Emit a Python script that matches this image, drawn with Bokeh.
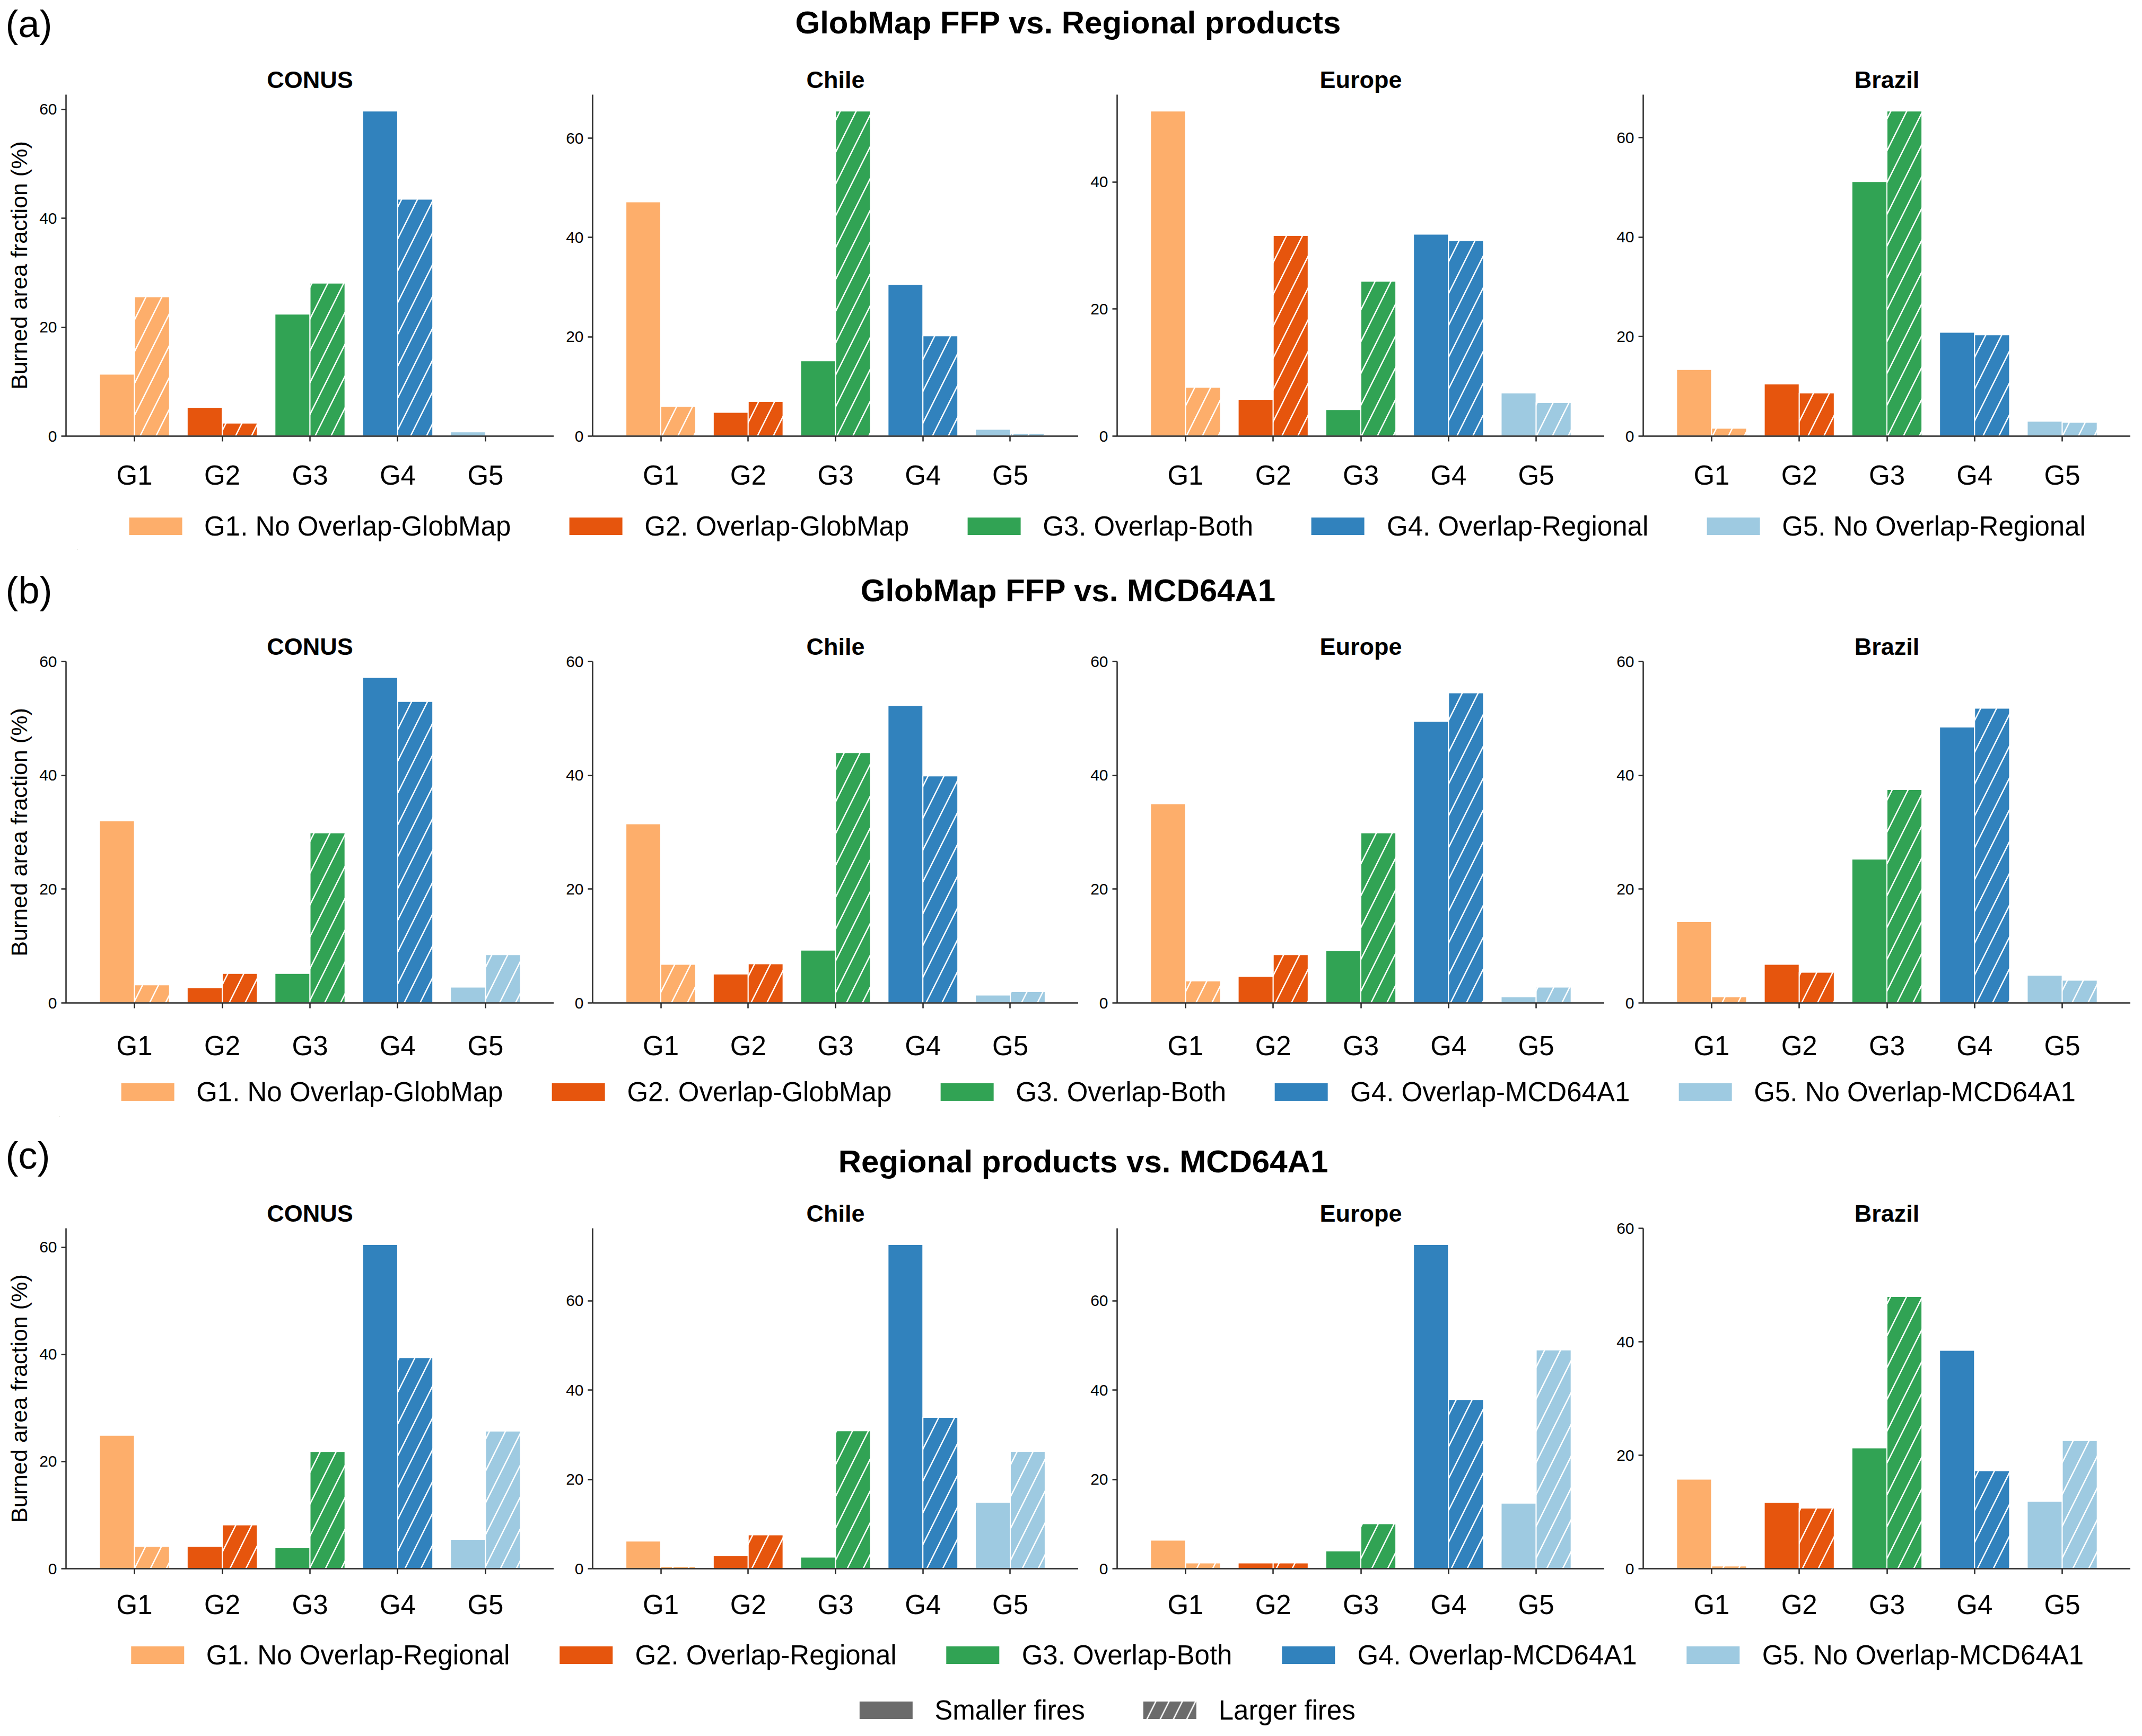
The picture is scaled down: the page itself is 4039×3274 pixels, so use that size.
from bokeh.plotting import figure
from bokeh.models import (Range1d, FactorRange, Label, Legend, LegendItem,
                          ColumnDataSource, FixedTicker)
from bokeh.transform import dodge
from bokeh.layouts import column, row
from bokeh.embed import file_html
from bokeh.resources import INLINE

FONT = "Liberation Sans"

# ---------------- data ----------------
groups = ["G1", "G2", "G3", "G4", "G5"]
regions = ["CONUS", "Chile", "Europe", "Brazil"]
group_colors = ["#fdae6b", "#e6550d", "#31a354", "#3182bd", "#9ecae1"]

# (a) GlobMap FFP vs. Regional products
a_conus_small = [11.4, 5.3, 22.4, 59.7, 0.8]
a_conus_large = [25.6, 2.4, 28.1, 43.5, 0.1]
a_chile_small = [47.2, 4.8, 15.2, 30.6, 1.4]
a_chile_large = [6.0, 7.0, 65.5, 20.2, 0.6]
a_europe_small = [51.2, 5.8, 4.2, 31.8, 6.8]
a_europe_large = [7.7, 31.6, 24.4, 30.8, 5.3]
a_brazil_small = [13.4, 10.5, 51.2, 20.9, 3.0]
a_brazil_large = [1.6, 8.7, 65.4, 20.4, 2.8]

# (b) GlobMap FFP vs. MCD64A1
b_conus_small = [32.0, 2.7, 5.2, 57.2, 2.8]
b_conus_large = [3.2, 5.2, 29.9, 53.0, 8.5]
b_chile_small = [31.5, 5.1, 9.3, 52.3, 1.4]
b_chile_large = [6.8, 6.9, 44.0, 39.9, 2.0]
b_europe_small = [35.0, 4.7, 9.2, 49.5, 1.1]
b_europe_large = [3.9, 8.5, 29.9, 54.5, 2.8]
b_brazil_small = [14.3, 6.8, 25.3, 48.5, 4.9]
b_brazil_large = [1.1, 5.4, 37.5, 51.8, 4.0]

# (c) Regional products vs. MCD64A1
c_conus_small = [24.9, 4.2, 4.0, 60.5, 5.5]
c_conus_large = [4.2, 8.2, 21.9, 39.4, 25.7]
c_chile_small = [6.2, 2.9, 2.6, 72.6, 14.9]
c_chile_large = [0.5, 7.6, 30.9, 33.9, 26.3]
c_europe_small = [6.4, 1.3, 4.0, 72.6, 14.7]
c_europe_large = [1.3, 1.3, 10.1, 37.9, 49.0]
c_brazil_small = [15.8, 11.7, 21.3, 38.5, 11.9]
c_brazil_large = [0.5, 10.7, 48.0, 17.3, 22.6]

section_letters = ["(a)", "(b)", "(c)"]
section_titles = ["GlobMap FFP vs. Regional products",
                  "GlobMap FFP vs. MCD64A1",
                  "Regional products vs. MCD64A1"]
legend_a = ["G1. No Overlap-GlobMap", "G2. Overlap-GlobMap", "G3. Overlap-Both",
            "G4. Overlap-Regional", "G5. No Overlap-Regional"]
legend_b = ["G1. No Overlap-GlobMap", "G2. Overlap-GlobMap", "G3. Overlap-Both",
            "G4. Overlap-MCD64A1", "G5. No Overlap-MCD64A1"]
legend_c = ["G1. No Overlap-Regional", "G2. Overlap-Regional", "G3. Overlap-Both",
            "G4. Overlap-MCD64A1", "G5. No Overlap-MCD64A1"]
fire_labels = ["Smaller fires", "Larger fires"]
fire_color = "#6b6b6b"
y_label = "Burned area fraction (%)"
y_ticks = [0, 20, 40, 60]

# fixed y limits (None -> automatic 5% headroom)
a_ylims = [None, None, None, None]
b_ylims = [60, 60, 60, 60]
c_ylims = [None, None, None, 60]

# ---------------- layout sizes ----------------
TOTAL_W = 4017
COL_W = [1044, 989, 992, 992]
COL_BL = [124, 73, 73, 73]
AXIS_COLOR = "#262626"


def panel(region, small, large, ylim, col, height, btop, bbot, xstand):
    ymax = ylim if ylim is not None else 1.05 * max(small + large)
    p = figure(width=COL_W[col], height=height,
               x_range=FactorRange(factors=groups, range_padding=0.28,
                                   range_padding_units="absolute"),
               y_range=Range1d(0, ymax),
               toolbar_location=None, output_backend="svg",
               min_border_left=COL_BL[col], min_border_right=0,
               min_border_top=btop, min_border_bottom=bbot,
               title=region, frame_align=False)
    p.title.align = "center"
    p.title.text_font = FONT
    p.title.text_font_size = "45px"
    p.title.text_font_style = "bold"
    p.title.text_color = "black"
    p.title.standoff = 6
    p.outline_line_color = None
    p.xgrid.visible = False
    p.ygrid.visible = False
    src = ColumnDataSource(dict(g=groups, small=small, large=large, color=group_colors))
    p.vbar(x=dodge("g", -0.2, range=p.x_range), top="small", width=0.4, source=src,
           fill_color="color", line_color="white", line_width=2)
    p.vbar(x=dodge("g", 0.2, range=p.x_range), top="large", width=0.4, source=src,
           fill_color="color", line_color="white", line_width=2,
           hatch_pattern="/", hatch_color="white", hatch_scale=60, hatch_weight=2.5)
    for ax in (p.xaxis[0], p.yaxis[0]):
        ax.axis_line_color = AXIS_COLOR
        ax.axis_line_width = 2.5
        ax.major_tick_line_color = AXIS_COLOR
        ax.major_tick_line_width = 2.5
        ax.major_tick_in = 0
        ax.minor_tick_in = 0
        ax.minor_tick_out = 0
        ax.major_label_text_font = FONT
        ax.major_label_text_color = "black"
    p.xaxis.major_tick_out = 10
    p.xaxis.major_label_text_font_size = "51px"
    p.xaxis.major_label_standoff = xstand
    p.yaxis.ticker = FixedTicker(ticks=y_ticks)
    p.yaxis.major_tick_out = 9
    p.yaxis.major_label_text_font_size = "30px"
    p.yaxis.major_label_standoff = 8
    if col == 0:
        p.yaxis.axis_label = y_label
        p.yaxis.axis_label_text_font = FONT
        p.yaxis.axis_label_text_font_size = "43px"
        p.yaxis.axis_label_text_font_style = "normal"
        p.yaxis.axis_label_text_color = "black"
        p.yaxis.axis_label_standoff = 11
    return p


def bare_fig(height, **kw):
    f = figure(width=TOTAL_W, height=height, x_range=Range1d(0, 1), y_range=Range1d(0, 1),
               x_axis_type=None, y_axis_type=None, toolbar_location=None,
               output_backend="svg", frame_align=False, **kw)
    f.outline_line_color = None
    f.background_fill_color = None
    f.border_fill_color = None
    f.grid.visible = False
    return f


def header(letter, title, height, y_letter, y_title, x_title):
    h = bare_fig(height, min_border=0)
    h.add_layout(Label(x=10, y=y_letter, x_units="screen", y_units="screen", text=letter,
                       text_font=FONT, text_font_size="72px", text_baseline="middle",
                       text_color="black"))
    h.add_layout(Label(x=x_title, y=y_title, x_units="screen", y_units="screen", text=title,
                       text_font=FONT, text_font_size="60px", text_font_style="bold",
                       text_baseline="middle", text_align="center", text_color="black"))
    return h


def legend_fig(labels, colors, hatches, height, btop, bbot, spacing, bleft=146):
    lf = bare_fig(height, min_border_left=bleft, min_border_right=0,
                  min_border_top=btop, min_border_bottom=bbot)
    items = []
    for lbl, c, h in zip(labels, colors, hatches):
        kw = dict(hatch_pattern="/", hatch_color="white", hatch_scale=50,
                  hatch_weight=2.5) if h else {}
        # legend-only renderer: its single bar lies entirely outside the visible ranges
        r = lf.vbar(x=[-5.0], bottom=[-3.0], top=[-2.0], width=0.4, fill_color=c,
                    line_color=None, **kw)
        items.append(LegendItem(label=lbl, renderers=[r]))
    leg = Legend(items=items, orientation="horizontal", location="center",
                 glyph_width=125, glyph_height=41, label_standoff=30, spacing=spacing,
                 label_text_font=FONT, label_text_font_size="51px",
                 label_text_color="black",
                 background_fill_alpha=0, border_line_alpha=0, padding=0, margin=0)
    lf.add_layout(leg)
    return lf


rows_data = [
    ([a_conus_small, a_chile_small, a_europe_small, a_brazil_small],
     [a_conus_large, a_chile_large, a_europe_large, a_brazil_large], a_ylims),
    ([b_conus_small, b_chile_small, b_europe_small, b_brazil_small],
     [b_conus_large, b_chile_large, b_europe_large, b_brazil_large], b_ylims),
    ([c_conus_small, c_chile_small, c_europe_small, c_brazil_small],
     [c_conus_large, c_chile_large, c_europe_large, c_brazil_large], c_ylims),
]
legends = [legend_a, legend_b, legend_c]

header_geo = [(118, 74, 76, 2014), (120, 51, 50, 2014), (125, 55, 43, 2042)]
panel_geo = [(830, 60, 126, 35), (850, 84, 122, 42), (835, 83, 110, 29)]
legend_geo = [(95, 0, 7, 97, 146), (95, 0, 3, 79, 112), (105, 8, 7, 81, 146)]

children = []
for k in range(3):
    hh, yl, yt, xt = header_geo[k]
    children.append(header(section_letters[k], section_titles[k], hh, yl, yt, xt))
    ph, bt, bb, xs = panel_geo[k]
    smalls, larges, ylims = rows_data[k]
    panels = [panel(regions[i], smalls[i], larges[i], ylims[i], i, ph, bt, bb, xs)
              for i in range(4)]
    children.append(row(*panels))
    lh, lt, lb, sp, bl = legend_geo[k]
    children.append(legend_fig(legends[k], group_colors, [False] * 5, lh, lt, lb, sp, bl))

children.append(legend_fig(fire_labels, [fire_color, fire_color], [False, True],
                           81, 23, 0, 97))

layout = column(*children)
open("out.html", "w").write(file_html(layout, INLINE))
